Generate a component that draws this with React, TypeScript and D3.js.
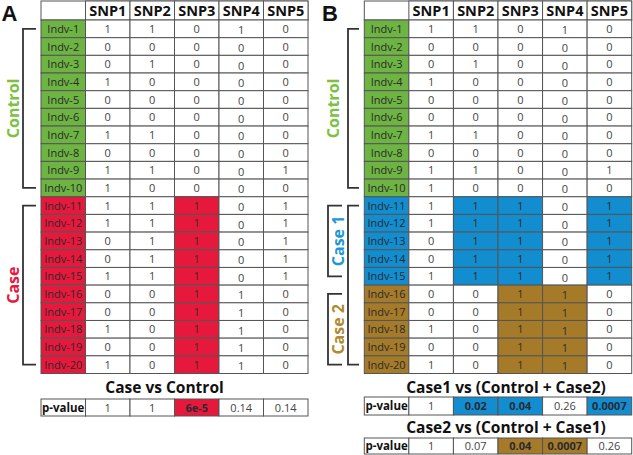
import React from "react";
import * as d3 from "d3";

const snps = ["SNP1", "SNP2", "SNP3", "SNP4", "SNP5"];
const individuals = d3.range(1, 21).map((i) => `Indv-${i}`);
const snp1 = [1, 0, 0, 1, 0, 0, 1, 0, 1, 1, 1, 1, 0, 0, 1, 0, 0, 1, 0, 1];
const snp2 = [1, 0, 1, 0, 0, 0, 1, 0, 1, 0, 1, 1, 1, 1, 1, 0, 0, 0, 0, 0];
const snp3 = [0, 0, 0, 0, 0, 0, 0, 0, 0, 0, 1, 1, 1, 1, 1, 1, 1, 1, 1, 1];
const snp4 = [1, 0, 0, 0, 0, 0, 0, 0, 0, 0, 0, 0, 0, 0, 0, 1, 1, 1, 1, 1];
const snp5 = [0, 0, 0, 0, 0, 0, 0, 0, 1, 0, 1, 1, 1, 1, 1, 0, 0, 0, 0, 0];
const genotypes = [snp1, snp2, snp3, snp4, snp5];

// group membership of each individual
const groupA = individuals.map((_, i) => (i < 10 ? "control" : "case"));
const groupB = individuals.map((_, i) => (i < 10 ? "control" : i < 15 ? "case1" : "case2"));

const pA = ["1", "1", "6e-5", "0.14", "0.14"];
const pAHighlight = [false, false, true, false, false];
const pB1 = ["1", "0.02", "0.04", "0.26", "0.0007"];
const pB1Highlight = [false, true, true, false, true];
const pB2 = ["1", "0.07", "0.04", "0.0007", "0.26"];
const pB2Highlight = [false, false, true, true, false];

const titleA = "Case vs Control";
const titleB1 = "Case1 vs (Control + Case2)";
const titleB2 = "Case2 vs (Control + Case1)";

const COLORS: Record<string, string> = {
  control: "#6db443",
  case: "#e6193d",
  case1: "#118dd0",
  case2: "#a57b2a",
};
const TEXTCOL: Record<string, string> = {
  control: "#7cc143",
  case: "#e6193d",
  case1: "#1b98d6",
  case2: "#b08a30",
};

const FONT = "'Open Sans', 'Noto Sans', sans-serif";
const LETTERFONT = "'Liberation Sans', Arial, sans-serif";
const GRID = "#555";

type TableProps = {
  x0: number;
  x1: number;
  groups: string[];
  highlight: (snpIdx: number, rowIdx: number) => string | null;
};

function Table({ x0, x1, groups, highlight }: TableProps) {
  const x = d3.scaleBand<string>().domain(["label", ...snps]).range([x0, x1]);
  const y = d3.scaleBand<string>().domain(individuals).range([20, 373.5]);
  const headerTop = 1;
  const bw = x.bandwidth();
  const bh = y.bandwidth();
  return (
    <g>
      {/* header */}
      <rect x={x0} y={headerTop} width={x1 - x0} height={20 - headerTop} fill="#fff" stroke={GRID} />
      {snps.map((s) => (
        <g key={s}>
          <rect x={x(s)} y={headerTop} width={bw} height={20 - headerTop} fill="#fff" stroke={GRID} />
          <text x={x(s)! + bw / 2} y={16} textAnchor="middle" fontFamily={FONT} fontWeight="bold" fontSize={14.5} fill="#111">
            {s}
          </text>
        </g>
      ))}
      {individuals.map((ind, r) => (
        <g key={ind}>
          <rect x={x("label")} y={y(ind)} width={bw} height={bh} fill={COLORS[groups[r]]} stroke={GRID} />
          <text x={x("label")! + bw / 2} y={y(ind)! + bh / 2 + 4} textAnchor="middle" fontFamily={FONT} fontSize={11} fill="#2a2a2a">
            {ind}
          </text>
          {snps.map((s, c) => {
            const hl = highlight(c, r);
            return (
              <g key={s}>
                <rect x={x(s)} y={y(ind)} width={bw} height={bh} fill={hl ? COLORS[hl] : "#fff"} stroke={GRID} />
                <text
                  x={x(s)! + bw / 2}
                  y={y(ind)! + bh / 2 + 4 + (c === 3 ? 1.5 : 0)}
                  textAnchor="middle"
                  fontFamily={FONT}
                  fontSize={11}
                  fill={hl ? "#3a2a20" : "#444"}
                >
                  {genotypes[c][r]}
                </text>
              </g>
            );
          })}
        </g>
      ))}
    </g>
  );
}

type PRowProps = {
  x0: number;
  x1: number;
  top: number;
  bottom: number;
  values: string[];
  hl: boolean[];
  color: string;
};

function PRow({ x0, x1, top, bottom, values, hl, color }: PRowProps) {
  const x = d3.scaleBand<string>().domain(["label", ...snps]).range([x0, x1]);
  const bw = x.bandwidth();
  const h = bottom - top;
  return (
    <g>
      <rect x={x("label")} y={top} width={bw} height={h} fill="#fff" stroke={GRID} />
      <text x={x("label")! + bw / 2} y={top + h / 2 + 4} textAnchor="middle" fontFamily={FONT} fontWeight="bold" fontSize={11.5} fill="#111">
        p-value
      </text>
      {snps.map((s, c) => (
        <g key={s}>
          <rect x={x(s)} y={top} width={bw} height={h} fill={hl[c] ? color : "#fff"} stroke={GRID} />
          <text
            x={x(s)! + bw / 2}
            y={top + h / 2 + 4}
            textAnchor="middle"
            fontFamily={FONT}
            fontSize={11}
            fontWeight={hl[c] ? "bold" : "normal"}
            fill={hl[c] ? "#2a2a30" : "#444"}
          >
            {values[c]}
          </text>
        </g>
      ))}
    </g>
  );
}

function Bracket({ x, y0, y1, dx }: { x: number; y0: number; y1: number; dx: number }) {
  const p = d3.path();
  p.moveTo(x + dx, y0);
  p.lineTo(x, y0);
  p.lineTo(x, y1);
  p.lineTo(x + dx, y1);
  return <path d={p.toString()} fill="none" stroke="#333" strokeWidth={1.8} />;
}

function VLabel({ x, y, text, color }: { x: number; y: number; text: string; color: string }) {
  return (
    <text
      transform={`translate(${x},${y}) rotate(-90)`}
      textAnchor="middle"
      dominantBaseline="central"
      fontFamily={FONT}
      fontWeight="bold"
      fontSize={16}
      fill={color}
    >
      {text}
    </text>
  );
}

export default function App() {
  const yRow = d3.scaleBand<string>().domain(individuals).range([20, 373.5]);
  const mid = (i: number) => yRow(individuals[i])! + yRow.bandwidth() / 2;
  return (
    <svg width={633} height={455} style={{ position: "absolute", left: 0, top: 0, background: "#fff" }}>
      <rect width={633} height={455} fill="#fff" />
      {/* Panel A */}
      <text x={1.5} y={20.5} fontFamily={LETTERFONT} fontWeight="bold" fontSize={22} fill="#111">A</text>
      <Table
        x0={41}
        x1={308}
        groups={groupA}
        highlight={(c, r) => (groupA[r] === "case" && c === 2 ? "case" : null)}
      />
      <Bracket x={23} y0={mid(0)} y1={mid(9)} dx={13} />
      <Bracket x={23} y0={mid(10)} y1={mid(19)} dx={13} />
      <VLabel x={13} y={(mid(0) + mid(9)) / 2} text="Control" color={TEXTCOL.control} />
      <VLabel x={13} y={(mid(10) + mid(19)) / 2} text="Case" color={TEXTCOL.case} />
      <text x={164.5} y={393} textAnchor="middle" fontFamily={FONT} fontWeight="bold" fontSize={15.5} fill="#111">
        {titleA}
      </text>
      <PRow x0={41} x1={308} top={399} bottom={416} values={pA} hl={pAHighlight} color={COLORS.case} />

      {/* Panel B */}
      <text x={322} y={20.5} fontFamily={LETTERFONT} fontWeight="bold" fontSize={22} fill="#111">B</text>
      <Table
        x0={364.3}
        x1={631.7}
        groups={groupB}
        highlight={(c, r) => {
          if (groupB[r] === "case1" && (c === 1 || c === 2 || c === 4)) return "case1";
          if (groupB[r] === "case2" && (c === 2 || c === 3)) return "case2";
          return null;
        }}
      />
      <Bracket x={348} y0={mid(0)} y1={mid(9)} dx={11} />
      <Bracket x={348} y0={mid(10)} y1={mid(19)} dx={11} />
      <Bracket x={328} y0={mid(10)} y1={mid(14) + 0} dx={14} />
      <Bracket x={328} y0={mid(15)} y1={mid(19)} dx={14} />
      <VLabel x={333} y={(mid(0) + mid(9)) / 2} text="Control" color={TEXTCOL.control} />
      <VLabel x={338} y={(mid(10) + mid(14)) / 2} text="Case 1" color={TEXTCOL.case1} />
      <VLabel x={338} y={(mid(15) + mid(19)) / 2} text="Case 2" color={TEXTCOL.case2} />
      <text x={506} y={393} textAnchor="middle" fontFamily={FONT} fontWeight="bold" fontSize={15.5} fill="#111">
        {titleB1}
      </text>
      <PRow x0={364.3} x1={631.7} top={397} bottom={415} values={pB1} hl={pB1Highlight} color={COLORS.case1} />
      <text x={506} y={433} textAnchor="middle" fontFamily={FONT} fontWeight="bold" fontSize={15.5} fill="#111">
        {titleB2}
      </text>
      <PRow x0={364.3} x1={631.7} top={438} bottom={454} values={pB2} hl={pB2Highlight} color={COLORS.case2} />
    </svg>
  );
}
